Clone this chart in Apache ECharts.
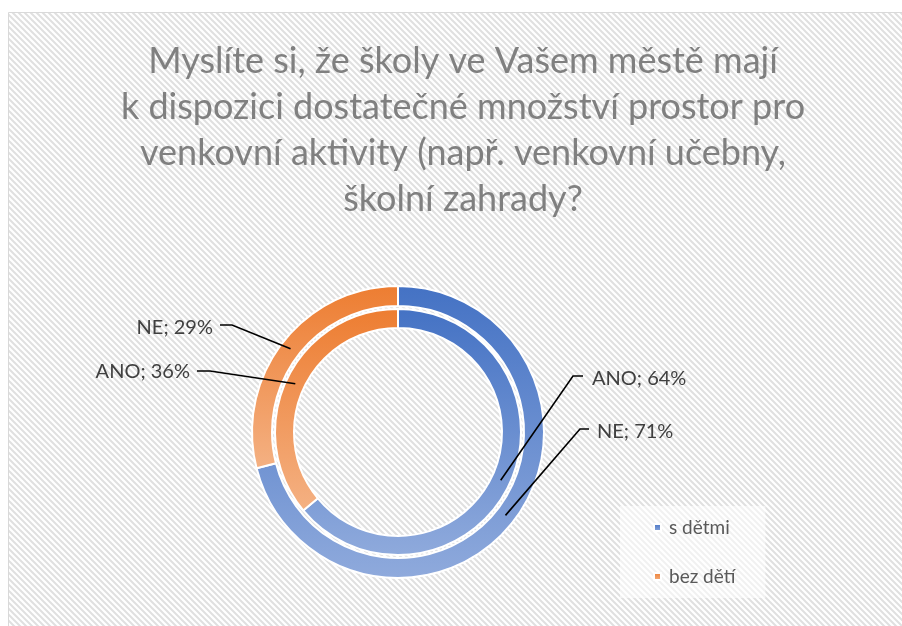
<!DOCTYPE html>
<html><head><meta charset="utf-8">
<script src="https://cdn.jsdelivr.net/npm/echarts@6/dist/echarts.min.js"></script>
<style>html,body{margin:0;padding:0;background:#fff}#c{width:902px;height:626px}</style>
</head><body><div id="c"></div>
<script>
// ---- data ----
const titleText = 'Myslíte si, že školy ve Vašem městě mají\nk dispozici dostatečné množství prostor pro\nvenkovní aktivity (např. venkovní učebny,\nškolní zahrady?';
const categories = ['s dětmi', 'bez dětí'];
const outerSeriesName = 'NE';
const innerSeriesName = 'ANO';
const neValues = [71, 29];
const anoValues = [64, 36];

// ---- layout / style ----
const center = [398, 432];
const outerRadius = [126, 146];
const innerRadius = [104, 123];
const font = 'Lato';
const gradients = [
  ['#4472C4', '#8FAADC'],
  ['#ED7D31', '#F4B183']
];
// label text anchor + line points (text side start, elbow); end point is computed on the ring
const labelPlacement = {
  '0-0': { x: 597, y: 432, align: 'left', line: [[589, 429], [580, 429]] },
  '0-1': { x: 213, y: 328, align: 'right', line: [[220, 325], [232, 325]] },
  '1-0': { x: 592, y: 379, align: 'left', line: [[583, 376], [573, 376]] },
  '1-1': { x: 190, y: 372, align: 'right', line: [[197, 371], [210, 371]] }
};

function grad(i) {
  return { type: 'linear', x: 0, y: 0, x2: 0, y2: 1,
    colorStops: [{ offset: 0, color: gradients[i][0] }, { offset: 1, color: gradients[i][1] }] };
}
function ringMidPoint(values, idx, radius) {
  const total = values.reduce((a, b) => a + b, 0);
  let acc = 0;
  for (let i = 0; i < idx; i++) acc += values[i];
  const a = (acc + values[idx] / 2) / total * 2 * Math.PI;
  const r = (radius[0] + radius[1]) / 2;
  return [center[0] + r * Math.sin(a), center[1] - r * Math.cos(a)];
}

// striped background tile
const tile = document.createElement('canvas');
tile.width = 6; tile.height = 6;
const g = tile.getContext('2d');
g.fillStyle = '#ffffff'; g.fillRect(0, 0, 6, 6);
g.strokeStyle = '#e0e0e0'; g.lineWidth = 2;
g.beginPath();
g.moveTo(-1, -1); g.lineTo(7, 7);
g.moveTo(-1, 5); g.lineTo(1, 7);
g.moveTo(5, -1); g.lineTo(7, 1);
g.stroke();

// visible ring (no labels)
function ringSeries(name, values, radius, z) {
  return {
    type: 'pie', name: name, center: center, radius: radius, z: z,
    startAngle: 90, clockwise: true, silent: true,
    itemStyle: { borderColor: '#ffffff', borderWidth: 2 },
    label: { show: false }, labelLine: { show: false },
    emphasis: { disabled: true },
    data: categories.map((c, i) => ({ name: c, value: values[i], itemStyle: { color: grad(i) } }))
  };
}
// transparent copy of the ring that carries labels and leader lines above all rings
function labelSeries(name, values, radius, sIdx) {
  return {
    type: 'pie', name: name, center: center, radius: radius, z: 10,
    startAngle: 90, clockwise: true, silent: true, avoidLabelOverlap: false,
    itemStyle: { color: 'rgba(0,0,0,0)', borderWidth: 0 },
    label: { show: true, position: 'outside', formatter: '{a}; {c}%',
      fontFamily: font, fontSize: 20, color: '#404040' },
    labelLine: { show: true, lineStyle: { color: '#000000', width: 1.6 } },
    labelLayout: function (p) {
      const pl = labelPlacement[sIdx + '-' + p.dataIndex];
      const end = ringMidPoint(values, p.dataIndex, radius);
      return { x: pl.x, y: pl.y, align: pl.align, verticalAlign: 'middle',
        labelLinePoints: [pl.line[0], pl.line[1], end] };
    },
    emphasis: { disabled: true },
    data: categories.map((c, i) => ({ name: c, value: values[i] }))
  };
}

const chart = echarts.init(document.getElementById('c'), null, { renderer: 'canvas' });
chart.setOption({
  animation: false,
  backgroundColor: '#ffffff',
  graphic: [{
    type: 'rect', z: -10, silent: true,
    shape: { x: 8.5, y: 12.5, width: 900, height: 620 },
    style: { fill: { image: tile, repeat: 'repeat' }, stroke: '#d9d9d9', lineWidth: 1 }
  }],
  title: {
    text: titleText, left: 463, top: 38, padding: 0, textAlign: 'center',
    textStyle: { fontFamily: font, fontSize: 36, fontWeight: 'normal', color: '#808080', lineHeight: 46 }
  },
  legend: {
    orient: 'vertical', left: 620, top: 506,
    padding: [12, 30, 12, 33], itemGap: 30,
    backgroundColor: 'rgba(255,255,255,0.55)',
    icon: 'rect', itemWidth: 7, itemHeight: 7,
    textStyle: { fontFamily: font, fontSize: 19, color: '#595959', padding: [0, 0, 0, 3] },
    data: categories
  },
  series: [
    ringSeries(outerSeriesName, neValues, outerRadius, 2),
    ringSeries(innerSeriesName, anoValues, innerRadius, 3),
    labelSeries(outerSeriesName, neValues, outerRadius, 0),
    labelSeries(innerSeriesName, anoValues, innerRadius, 1)
  ]
});
</script>
</body></html>
